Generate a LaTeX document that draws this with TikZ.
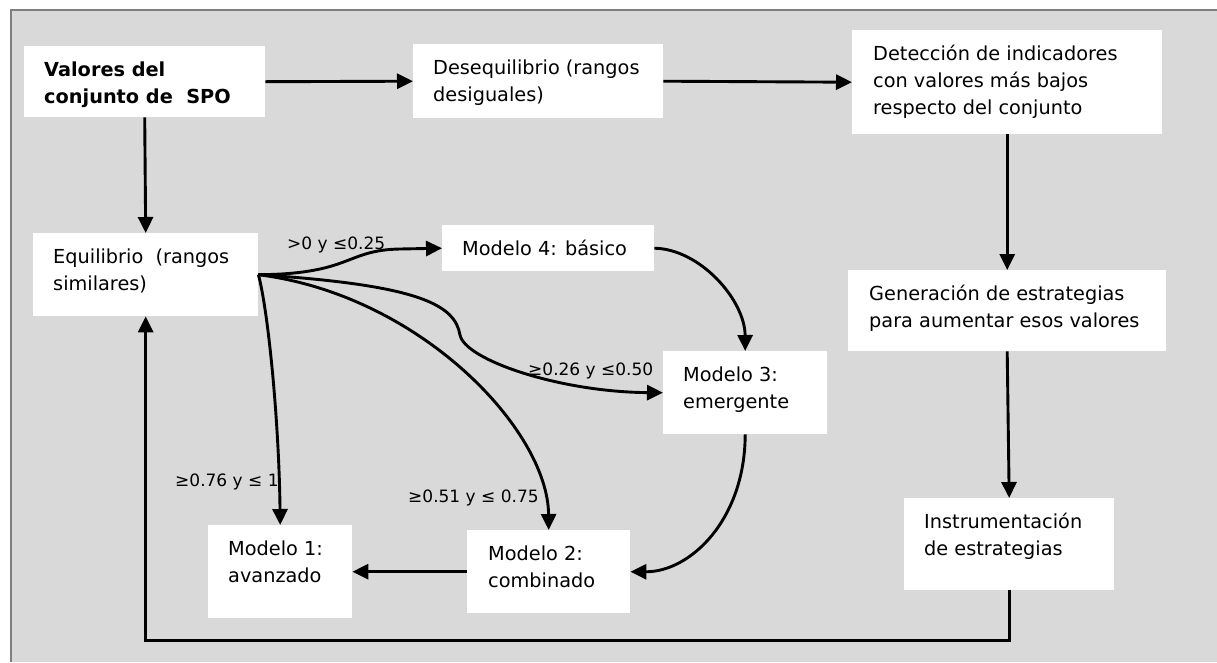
\documentclass[tikz,border=0pt]{standalone}
\usepackage{fontspec}
\setmainfont{DejaVu Sans}
\usetikzlibrary{arrows.meta}
\definecolor{bggray}{HTML}{D9D9D9}
\definecolor{bordergray}{HTML}{7F7F7F}
\newcommand\bx[4]{\parbox[c][#2pt][t]{#1pt}{\raggedright\leftskip=#3pt\relax\vspace*{11.1pt}\strut #4}}
\begin{document}
\begin{tikzpicture}[x=1pt,y=-1pt,
  box/.style={fill=white, inner sep=0pt, anchor=north west, font=\fontsize{19.3}{27}\selectfont},
  conn/.style={line width=2.9pt, -{Triangle[length=16pt,width=15pt]}},
  lab/.style={font=\fontsize{17}{20}\selectfont, inner sep=0pt, anchor=base west}]

\useasboundingbox (0,0) rectangle (1217,662);
\fill[white] (0,0) rectangle (1217,662);
\fill[bggray] (11,10) rectangle (1217,662);
\draw[bordergray, line width=2pt] (11,662) -- (11,10) -- (1217,10);

% boxes
\node[box] (val) at (24,46)   {\bx{241}{71}{20}{\bfseries Valores del\\conjunto de\ \ SPO}};
\node[box] (des) at (413,44)  {\bx{250}{74}{20}{Desequilibrio (rangos\\desiguales)}};
\node[box] (det) at (852,30)  {\bx{310}{104}{21}{Detección de indicadores\\con valores más bajos\\respecto del conjunto}};
\node[box] (equ) at (33,233)  {\bx{225}{83}{20}{Equilibrio\ \ (rangos\\similares)}};
\node[box] (m4)  at (442,225) {\bx{212}{46}{20}{Modelo 4: básico}};
\node[box] (m3)  at (663,351) {\bx{164}{83}{20}{Modelo 3:\\emergente}};
\node[box] (gen) at (848,270) {\bx{318}{81}{21}{Generación de estrategias\\para aumentar esos valores}};
\node[box] (ins) at (904,498) {\bx{210}{92}{20}{Instrumentación\\de estrategias}};
\node[box] (m1)  at (208,525) {\bx{144}{93}{20}{Modelo 1:\\avanzado}};
\node[box] (m2)  at (467,530) {\bx{163}{83}{21}{Modelo 2:\\combinado}};

% straight connectors
\draw[conn] (val.east) -- (des.west);
\draw[conn] (des.east) -- (det.west);
\draw[conn] (val.south) -- (equ.north);
\draw[conn] (det.south) -- (gen.north);
\draw[conn] (gen.south) -- (ins.north);
\draw[conn] (ins.south) -- ++(0,50) -| (equ.south);
\draw[conn] (m2.west) -- (m1.east);

% curved connectors
\draw[conn] (equ.east) .. controls (352,274) and (345,250) .. (400,249) -- (m4.west);
\draw[conn] (equ.east) .. controls (420,285) and (455,305) .. (460,335)
                       .. controls (465,360) and (560,392) .. (m3.west);
\draw[conn] (equ.east) .. controls (420,295) and (548,430) .. (m2.north);
\draw[conn] (equ.east) .. controls (268,310) and (279,420) .. (m1.north);
\draw[conn] (m4.east) .. controls (700,249) and (745,300) .. (m3.north);
\draw[conn] (m3.south) .. controls (745,520) and (690,572) .. (m2.east);

% labels
\node[lab] (l1) at (287,249) {>0 y ≤0.25};
\node[lab] (l2) at (528,375) {≥0.26 y ≤0.50};
\node[lab] (l3) at (408,502) {≥0.51 y ≤ 0.75};
\node[lab] (l4) at (175,486) {≥0.76 y ≤ 1};
\end{tikzpicture}
\end{document}
